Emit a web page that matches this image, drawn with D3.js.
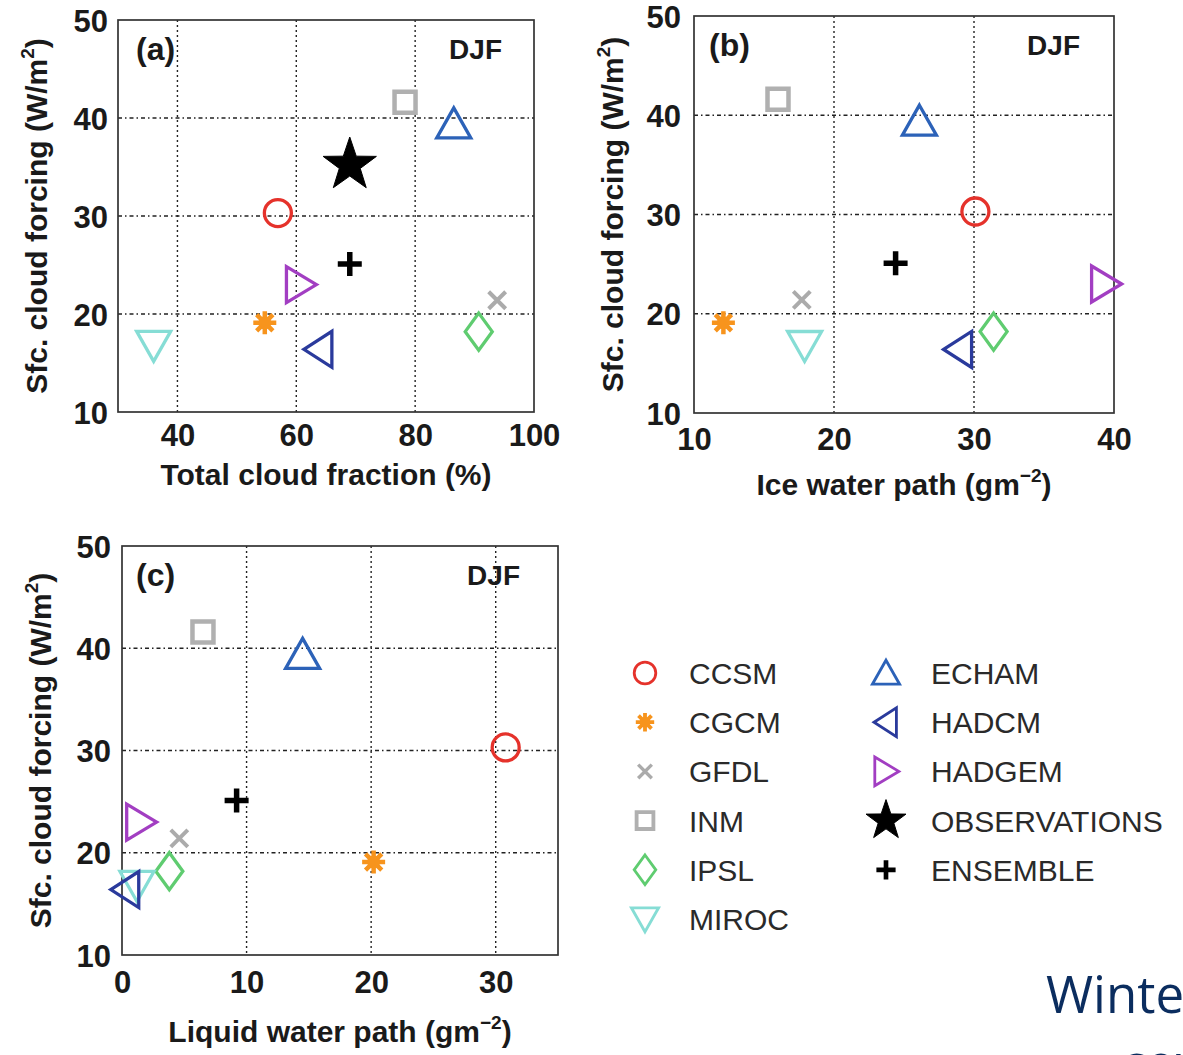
<!DOCTYPE html>
<html>
<head>
<meta charset="utf-8">
<script src="https://cdn.jsdelivr.net/npm/d3@7"></script>
<style>
  body { margin: 0; background: #fff; }
  svg { display: block; font-family: "Liberation Sans", Arial, Helvetica, sans-serif; }
</style>
</head>
<body>
<svg id="chart" width="1183" height="1055"></svg>
<script>
// model names, colours and marker shapes
var models = ["CCSM", "CGCM", "GFDL", "INM", "IPSL", "MIROC", "ECHAM", "HADCM", "HADGEM", "OBSERVATIONS", "ENSEMBLE"];
var colors = ["#e5322b", "#f7941d", "#ababab", "#b0b0b0", "#5fcc70", "#86ddd5", "#2c62b8", "#2a3a9c", "#a23ec2", "#000000", "#000000"];
var shapes = ["circle", "asterisk", "x", "square", "diamond", "tridown", "triup", "trileft", "triright", "star", "plus"];

// surface cloud forcing (W/m2), same for every panel
var sfcForcing = [30.3, 19.1, 21.4, 41.6, 18.2, 16.8, 39.4, 16.4, 23.0, 35.2, 25.1];
// x values per panel (null = not shown)
var cloudFraction = [56.9, 54.7, 93.8, 78.3, 90.7, 36.0, 86.5, 63.8, 60.7, 69.0, 69.0];
var iceWaterPath = [30.1, 12.1, 17.7, 16.0, 31.4, 17.9, 26.1, 28.9, 39.4, null, 24.4];
var liquidWaterPath = [30.8, 20.2, 4.6, 6.5, 3.8, 1.2, 14.5, 0.3, 1.5, null, 9.2];

var yTicks = [10, 20, 30, 40, 50];
var xTicksA = [40, 60, 80, 100];
var xTicksB = [10, 20, 30, 40];
var xTicksC = [0, 10, 20, 30];

var svg = d3.select("#chart");
svg.append("rect").attr("width", 1183).attr("height", 1055).attr("fill", "#fff");

// marker path for a shape at scale s
function markerPath(shape, s) {
  var p = d3.path();
  if (shape == "circle") {
    p.arc(0, 0, 13.5 * s, 0, 2 * Math.PI);
  } else if (shape == "square") {
    var h = 10.5 * s;
    p.rect(-h, -h, 2 * h, 2 * h);
  } else if (shape == "diamond") {
    p.moveTo(0, -18.5 * s); p.lineTo(13.5 * s, 0); p.lineTo(0, 18.5 * s); p.lineTo(-13.5 * s, 0); p.closePath();
  } else if (shape == "triup") {
    p.moveTo(0, -16 * s); p.lineTo(17 * s, 14 * s); p.lineTo(-17 * s, 14 * s); p.closePath();
  } else if (shape == "tridown") {
    p.moveTo(0, 16 * s); p.lineTo(17 * s, -14 * s); p.lineTo(-17 * s, -14 * s); p.closePath();
  } else if (shape == "trileft") {
    p.moveTo(-15 * s, 0); p.lineTo(13 * s, -18 * s); p.lineTo(13 * s, 18 * s); p.closePath();
  } else if (shape == "triright") {
    p.moveTo(16 * s, 0); p.lineTo(-14 * s, -18 * s); p.lineTo(-14 * s, 18 * s); p.closePath();
  } else if (shape == "x") {
    var k = 8.5 * s;
    p.moveTo(-k, -k); p.lineTo(k, k); p.moveTo(k, -k); p.lineTo(-k, k);
  } else if (shape == "plus") {
    var m = 12 * s;
    p.moveTo(-m, 0); p.lineTo(m, 0); p.moveTo(0, -m); p.lineTo(0, m);
  } else if (shape == "asterisk") {
    for (var i = 0; i < 4; i++) {
      var a = i * Math.PI / 4;
      var r = 11.5 * s;
      p.moveTo(-r * Math.cos(a), -r * Math.sin(a));
      p.lineTo(r * Math.cos(a), r * Math.sin(a));
    }
  } else if (shape == "star") {
    var ro = 28 * s, ri = 11 * s;
    for (var j = 0; j < 10; j++) {
      var ang = -Math.PI / 2 + j * Math.PI / 5;
      var rr = (j % 2 == 0) ? ro : ri;
      if (j == 0) p.moveTo(rr * Math.cos(ang), rr * Math.sin(ang));
      else p.lineTo(rr * Math.cos(ang), rr * Math.sin(ang));
    }
    p.closePath();
  }
  return p.toString();
}

function drawMarker(g, shape, color, x, y, s) {
  var filled = (shape == "star");
  var sw = 3.3;
  if (shape == "square") sw = 4.5;
  if (shape == "x") sw = 4;
  if (shape == "plus") sw = 5.5;
  if (shape == "asterisk") sw = 4.5;
  g.append("path")
    .attr("transform", "translate(" + x + "," + y + ")")
    .attr("d", markerPath(shape, s))
    .attr("fill", filled ? color : "none")
    .attr("stroke", color)
    .attr("stroke-width", filled ? 1 : sw * Math.max(s, 0.85))
    .attr("stroke-linejoin", "miter");
  if (shape == "asterisk") {
    g.append("circle").attr("cx", x).attr("cy", y).attr("r", 6.5 * s).attr("fill", color);
  }
}

var panels = [
  { label: "(a)", xs: cloudFraction, dom: [30, 100], ticks: xTicksA, left: 118, top: 20, w: 416, h: 392,
    xlab: "Total cloud fraction (%)", sup: null, xpad: 12, ypad: 10, xlabY: 73, ylabX: -71, djf: 32, lab: 18 },
  { label: "(b)", xs: iceWaterPath, dom: [10, 40], ticks: xTicksB, left: 694, top: 16, w: 420, h: 397,
    xlab: "Ice water path (gm", sup: "\u22122", xpad: 15, ypad: 13, xlabY: 82, ylabX: -71, djf: 34, lab: 15 },
  { label: "(c)", xs: liquidWaterPath, dom: [0, 35], ticks: xTicksC, left: 122, top: 546, w: 436, h: 409,
    xlab: "Liquid water path (gm", sup: "\u22122", xpad: 16, ypad: 11, xlabY: 87, ylabX: -71, djf: 38, lab: 14 }
];

panels.forEach(function(pn) {
  var g = svg.append("g").attr("transform", "translate(" + pn.left + "," + pn.top + ")");
  var x = d3.scaleLinear().domain(pn.dom).range([0, pn.w]);
  var y = d3.scaleLinear().domain([10, 50]).range([pn.h, 0]);

  // grid
  g.selectAll(".vg").data(pn.ticks.filter(function(t) { return t > pn.dom[0] && t < pn.dom[1]; }))
    .enter().append("line")
    .attr("x1", function(d) { return x(d); }).attr("x2", function(d) { return x(d); })
    .attr("y1", 0).attr("y2", pn.h)
    .attr("stroke", "#222").attr("stroke-width", 1.4).attr("stroke-dasharray", "2,3");
  g.selectAll(".hg").data(yTicks.filter(function(t) { return t > 10 && t < 50; }))
    .enter().append("line")
    .attr("x1", 0).attr("x2", pn.w)
    .attr("y1", function(d) { return y(d); }).attr("y2", function(d) { return y(d); })
    .attr("stroke", "#222").attr("stroke-width", 1.4).attr("stroke-dasharray", "4,3,1.5,3");

  // box
  g.append("rect").attr("width", pn.w).attr("height", pn.h)
    .attr("fill", "none").attr("stroke", "#333").attr("stroke-width", 1.7);

  // axes (labels only)
  var xAxis = d3.axisBottom(x).tickValues(pn.ticks).tickSize(0).tickPadding(pn.xpad);
  var gx = g.append("g").attr("transform", "translate(0," + pn.h + ")").call(xAxis);
  var yAxis = d3.axisLeft(y).tickValues(yTicks).tickSize(0).tickPadding(pn.ypad);
  var gy = g.append("g").call(yAxis);
  [gx, gy].forEach(function(ax) {
    ax.select(".domain").remove();
    ax.selectAll("text").attr("font-size", 31).attr("font-weight", "bold").attr("fill", "#1a1a1a")
      .attr("font-family", "'Liberation Sans', Arial, sans-serif");
  });
  gy.selectAll("text").attr("dy", "0.36em");

  // x label
  var xl = g.append("text").attr("x", pn.w / 2).attr("y", pn.h + pn.xlabY)
    .attr("text-anchor", "middle").attr("font-size", 30).attr("font-weight", "bold").attr("fill", "#1a1a1a")
    .text(pn.xlab);
  if (pn.sup) {
    xl.append("tspan").attr("dy", -13).attr("font-size", 19).text(pn.sup);
    xl.append("tspan").attr("dy", 13).text(")");
  }

  // y label
  var yl = g.append("text")
    .attr("transform", "translate(" + pn.ylabX + "," + (pn.h / 2) + ") rotate(-90)")
    .attr("text-anchor", "middle").attr("font-size", 30).attr("font-weight", "bold").attr("fill", "#1a1a1a")
    .text("Sfc. cloud forcing (W/m");
  yl.append("tspan").attr("dy", -13).attr("font-size", 19).text("2");
  yl.append("tspan").attr("dy", 13).text(")");

  // panel letters
  g.append("text").attr("x", pn.lab).attr("y", 40).attr("font-size", 32).attr("font-weight", "bold")
    .attr("fill", "#1a1a1a").text(pn.label);
  g.append("text").attr("x", pn.w - pn.djf).attr("y", 39).attr("text-anchor", "end")
    .attr("font-size", 28).attr("font-weight", "bold").attr("fill", "#1a1a1a").text("DJF");

  // markers
  models.forEach(function(m, i) {
    if (pn.xs[i] == null) return;
    drawMarker(g, shapes[i], colors[i], x(pn.xs[i]), y(sfcForcing[i]), 1);
  });
});

// legend, two columns
var legend = svg.append("g");
var rowY = d3.scaleLinear().domain([0, 1]).range([673, 722.2]);
models.forEach(function(m, i) {
  var col = i < 6 ? 0 : 1;
  var row = i < 6 ? i : i - 6;
  var mx = col == 0 ? 645 : 886;
  var tx = col == 0 ? 689 : 931;
  var cy = rowY(row);
  var sc = shapes[i] == "star" ? 0.75 : 0.8;
  drawMarker(legend, shapes[i], colors[i], mx, cy, sc);
  legend.append("text").attr("x", tx).attr("y", cy + 11)
    .attr("font-size", 30).attr("fill", "#2a2a2a").text(m);
});

// slide caption text cut at the edge
svg.append("text").attr("x", 1046).attr("y", 1013)
  .attr("font-family", "'Open Sans', 'Noto Sans', sans-serif").attr("font-size", 51)
  .attr("fill", "#0b2d5f").text("Winter");
svg.append("text").attr("x", 1121).attr("y", 1082)
  .attr("font-family", "'Open Sans', 'Noto Sans', sans-serif").attr("font-size", 51)
  .attr("fill", "#0b2d5f").text("cover");
</script>
</body>
</html>
